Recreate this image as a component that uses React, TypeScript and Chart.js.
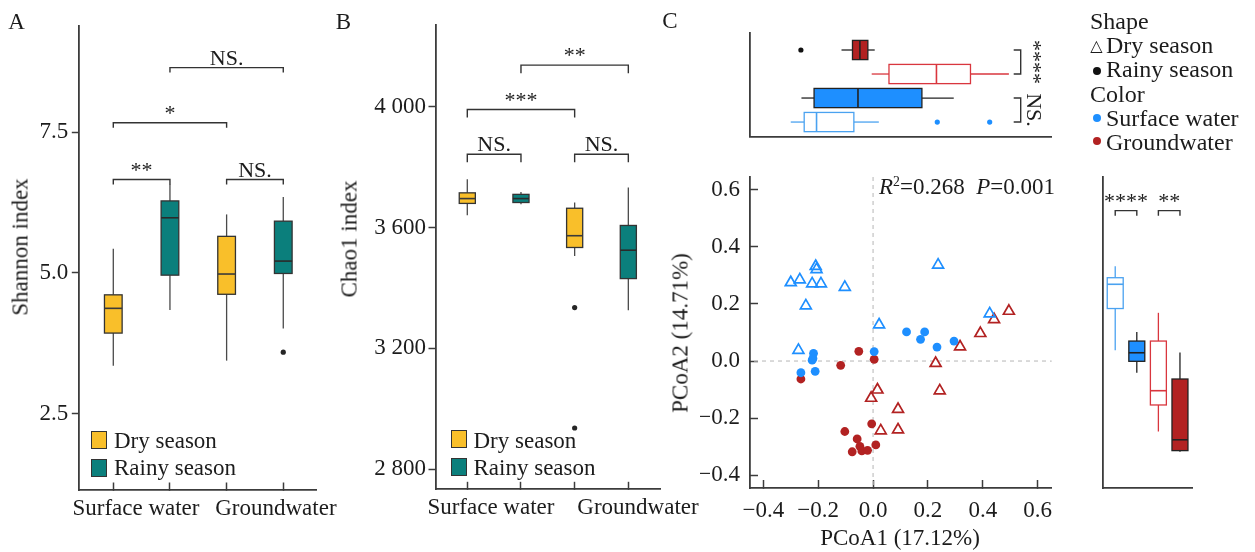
import React, { useEffect, useRef } from "react";
import { Chart, registerables } from "chart.js";

Chart.register(...registerables);

const W = 1255;
const H = 552;
const FONT = '"Liberation Serif", "Times New Roman", Times, serif';
const INK = "#1c1c1c";
const AXIS = "#3c3c3c";
const YELLOW = "#F9BF2A";
const TEAL = "#0B7F7C";
const BLUE = "#1E8FFF";
const RED = "#B22222";
const LIGHT_BLUE = "#4AA2F0";
const LIGHT_RED = "#D9363E";

// ---------------- Panel A & B ----------------
const groupLabels = ["Surface water", "Groundwater"];
const groupLabelPosA = [0.4, 2.87];
const groupLabelPosB = [0.44, 3.18];
const seasonLabels = ["Dry season", "Rainy season"];
const boxTicks = [0, 1, 2, 3];
// order: SW dry, SW rainy, GW dry, GW rainy ; [low whisker, Q1, median, Q3, high whisker]
const shannonBoxes = [
  [3.35, 3.93, 4.37, 4.61, 5.43],
  [4.34, 4.96, 5.98, 6.28, 6.58],
  [3.44, 4.62, 4.98, 5.65, 6.04],
  [4.01, 4.99, 5.21, 5.92, 6.35],
];
const shannonOutliers = [[], [], [], [3.59]];
const shannonTicks = [2.5, 5.0, 7.5];
const shannonSig: [number, number, number, string][] = [
  [0, 1, 6.66, "**"],
  [2, 3, 6.66, "NS."],
  [0, 2, 7.67, "*"],
  [1, 3, 8.65, "NS."],
];
const chao1Boxes = [
  [3641, 3680, 3696, 3715, 3760],
  [3677, 3683, 3696, 3710, 3718],
  [3506, 3534, 3573, 3664, 3683],
  [3326, 3431, 3525, 3607, 3733],
];
const chao1Outliers = [[], [], [3335, 2936], []];
const chao1Ticks = [2800, 3200, 3600, 4000];
const chao1Sig: [number, number, number, string][] = [
  [0, 1, 3843, "NS."],
  [2, 3, 3843, "NS."],
  [0, 2, 3991, "***"],
  [1, 3, 4138, "**"],
];

// ---------------- Panel C ----------------
const pcoaTicks = [-0.4, -0.2, 0, 0.2, 0.4, 0.6];
const swDry = [
  [-0.3, 0.275], [-0.267, 0.285], [-0.209, 0.332], [-0.206, 0.321], [-0.222, 0.271], [-0.19, 0.271],
  [-0.103, 0.259], [-0.245, 0.194], [-0.272, 0.038], [0.022, 0.127], [0.237, 0.337], [0.425, 0.166],
];
const swRainy = [
  [-0.217, 0.027], [-0.219, 0.009], [-0.222, 0.003], [-0.263, -0.041], [-0.211, -0.036], [0.004, 0.033],
  [0.122, 0.102], [0.173, 0.076], [0.188, 0.102], [0.233, 0.049], [0.295, 0.07],
];
const gwDry = [
  [0.317, 0.05], [0.391, 0.097], [0.441, 0.146], [0.495, 0.175], [0.228, -0.008], [0.243, -0.104],
  [0.016, -0.101], [-0.007, -0.13], [0.091, -0.169], [0.028, -0.244], [0.091, -0.241],
];
const gwRainy = [
  [-0.263, -0.063], [-0.118, -0.015], [-0.052, 0.034], [0.004, 0.006], [-0.005, -0.22], [-0.103, -0.247],
  [-0.058, -0.273], [-0.048, -0.299], [-0.076, -0.318], [-0.041, -0.315], [-0.02, -0.313], [0.01, -0.294],
];
// top marginal (PCoA1), rows from top: GW rainy, GW dry, SW rainy, SW dry
const pc1Boxes = [
  [-0.115, -0.075, -0.048, -0.019, 0.006],
  [-0.005, 0.058, 0.231, 0.355, 0.495],
  [-0.261, -0.215, -0.055, 0.178, 0.294],
  [-0.3, -0.251, -0.206, -0.07, 0.021],
];
const pc1Outliers = [[-0.263], [], [], [0.234, 0.425]];
const pc1Sig: [number, number, string][] = [
  [0, 1, "****"],
  [2, 3, "NS."],
];
// right marginal (PCoA2), left to right: SW dry, SW rainy, GW dry, GW rainy
const pc2Boxes = [
  [0.038, 0.184, 0.269, 0.292, 0.332],
  [-0.041, -0.001, 0.029, 0.07, 0.102],
  [-0.247, -0.154, -0.104, 0.07, 0.169],
  [-0.318, -0.314, -0.276, -0.063, 0.03],
];
const pc2Sig: [number, number, number, string][] = [
  [0, 1, 0.527, "****"],
  [2, 3, 0.527, "**"],
];

type BoxStyle = { fill: string; stroke: string; whisker: string; median: string };
const abStyles: BoxStyle[] = [
  { fill: YELLOW, stroke: "#333", whisker: "#4a4a4a", median: "#3a3a3a" },
  { fill: TEAL, stroke: "#333", whisker: "#4a4a4a", median: "#2a2a2a" },
  { fill: YELLOW, stroke: "#333", whisker: "#4a4a4a", median: "#3a3a3a" },
  { fill: TEAL, stroke: "#333", whisker: "#4a4a4a", median: "#2a2a2a" },
];
const swDryStyle: BoxStyle = { fill: "#ffffff", stroke: LIGHT_BLUE, whisker: LIGHT_BLUE, median: LIGHT_BLUE };
const swRainyStyle: BoxStyle = { fill: BLUE, stroke: "#222", whisker: "#222", median: "#222" };
const gwDryStyle: BoxStyle = { fill: "#ffffff", stroke: LIGHT_RED, whisker: LIGHT_RED, median: LIGHT_RED };
const gwRainyStyle: BoxStyle = { fill: RED, stroke: "#222", whisker: "#222", median: "#222" };
const pc1Styles = [gwRainyStyle, gwDryStyle, swRainyStyle, swDryStyle];
const pc2Styles = [swDryStyle, swRainyStyle, gwDryStyle, gwRainyStyle];

// ---------------- helpers ----------------
const fmtPcoa = (v: number) =>
  Math.abs(v) < 1e-9 ? "0.0" : v < 0 ? "\u2212" + (-v).toFixed(1) : v.toFixed(1);
const fmtThousands = (v: number) => `${Math.floor(v / 1000)} ${String(Math.round(v % 1000)).padStart(3, "0")}`;

function makeScale(o: any) {
  return {
    type: "linear",
    min: o.min,
    max: o.max,
    reverse: !!o.reverse,
    afterBuildTicks: (s: any) => {
      s.ticks = (o.ticks || []).map((v: number) => ({ value: v }));
    },
    afterFit: (s: any) => {
      if (o.horizontal) s.height = o.size;
      else s.width = o.size;
      s.paddingLeft = 0;
      s.paddingRight = 0;
      s.paddingTop = 0;
      s.paddingBottom = 0;
    },
    ticks: {
      display: !!o.label,
      autoSkip: false,
      maxRotation: 0,
      minRotation: 0,
      padding: o.pad ?? 0,
      color: INK,
      font: { family: FONT, size: 23, lineHeight: 1 },
      callback: (v: number) => (o.label ? o.label(v) : ""),
    },
    grid: {
      display: !!o.tickLen,
      drawOnChartArea: false,
      drawTicks: true,
      tickLength: o.tickLen || 0,
      tickWidth: 1.5,
      tickColor: (c: any) =>
        c && c.tick && o.marks && !o.marks.includes(c.tick.value) ? "rgba(0,0,0,0)" : AXIS,
    },
    border: { display: o.border !== false, color: AXIS, width: 1.8 },
  };
}

function build(canvas: HTMLCanvasElement, area: any, xs: any, ys: any, datasets: any[], plugin: any) {
  return new Chart(canvas, {
    type: "scatter",
    data: { datasets },
    options: {
      responsive: false,
      animation: false,
      events: [],
      layout: {
        padding: {
          left: area.l - ys.size,
          right: W - area.r,
          top: area.t,
          bottom: H - area.b - xs.size,
        },
      },
      plugins: { legend: { display: false }, tooltip: { enabled: false }, title: { display: false } },
      scales: {
        x: makeScale({ ...xs, horizontal: true }),
        y: makeScale({ ...ys, horizontal: false }),
      },
    } as any,
    plugins: [plugin],
  } as any);
}

function line(ctx: CanvasRenderingContext2D, x1: number, y1: number, x2: number, y2: number) {
  ctx.beginPath();
  ctx.moveTo(x1, y1);
  ctx.lineTo(x2, y2);
  ctx.stroke();
}

function drawBoxes(chart: any, boxes: number[][], styles: BoxStyle[], half: number, vertical: boolean) {
  const ctx: CanvasRenderingContext2D = chart.ctx;
  const xs = chart.scales.x;
  const ys = chart.scales.y;
  boxes.forEach((b, i) => {
    const st = styles[i];
    const [lo, q1, md, q3, hi] = b;
    ctx.save();
    ctx.lineWidth = 1.3;
    if (vertical) {
      const cx = xs.getPixelForValue(i);
      const x0 = xs.getPixelForValue(i - half);
      const x1 = xs.getPixelForValue(i + half);
      const pLo = ys.getPixelForValue(lo), pQ1 = ys.getPixelForValue(q1), pMd = ys.getPixelForValue(md);
      const pQ3 = ys.getPixelForValue(q3), pHi = ys.getPixelForValue(hi);
      ctx.strokeStyle = st.whisker;
      line(ctx, cx, pHi, cx, pQ3);
      line(ctx, cx, pQ1, cx, pLo);
      ctx.fillStyle = st.fill;
      ctx.fillRect(x0, pQ3, x1 - x0, pQ1 - pQ3);
      ctx.strokeStyle = st.stroke;
      ctx.strokeRect(x0, pQ3, x1 - x0, pQ1 - pQ3);
      ctx.strokeStyle = st.median;
      ctx.lineWidth = 1.6;
      line(ctx, x0, pMd, x1, pMd);
    } else {
      const cy = ys.getPixelForValue(i);
      const y0 = ys.getPixelForValue(i - half);
      const y1 = ys.getPixelForValue(i + half);
      const pLo = xs.getPixelForValue(lo), pQ1 = xs.getPixelForValue(q1), pMd = xs.getPixelForValue(md);
      const pQ3 = xs.getPixelForValue(q3), pHi = xs.getPixelForValue(hi);
      ctx.strokeStyle = st.whisker;
      line(ctx, pLo, cy, pQ1, cy);
      line(ctx, pQ3, cy, pHi, cy);
      ctx.fillStyle = st.fill;
      const top = Math.min(y0, y1), h = Math.abs(y1 - y0);
      ctx.fillRect(pQ1, top, pQ3 - pQ1, h);
      ctx.strokeStyle = st.stroke;
      ctx.strokeRect(pQ1, top, pQ3 - pQ1, h);
      ctx.strokeStyle = st.median;
      ctx.lineWidth = 1.6;
      line(ctx, pMd, top, pMd, top + h);
    }
    ctx.restore();
  });
}

function drawSig(chart: any, sigs: [number, number, number, string][], leg: number) {
  const ctx: CanvasRenderingContext2D = chart.ctx;
  const xs = chart.scales.x;
  const ys = chart.scales.y;
  ctx.save();
  ctx.strokeStyle = "#333";
  ctx.lineWidth = 1.4;
  ctx.fillStyle = INK;
  ctx.font = `22px ${FONT}`;
  ctx.textAlign = "center";
  ctx.textBaseline = "alphabetic";
  sigs.forEach(([a, b, yv, label]) => {
    const x1 = xs.getPixelForValue(a);
    const x2 = xs.getPixelForValue(b);
    const y = ys.getPixelForValue(yv);
    ctx.beginPath();
    ctx.moveTo(x1, y + leg);
    ctx.lineTo(x1, y);
    ctx.lineTo(x2, y);
    ctx.lineTo(x2, y + leg);
    ctx.stroke();
    ctx.fillText(label, (x1 + x2) / 2, y - 3);
  });
  ctx.restore();
}

const outlierDataset = (pts: { x: number; y: number }[], color: string, r: number) => ({
  data: pts,
  pointRadius: r,
  pointBackgroundColor: color,
  pointBorderWidth: 0,
  pointBorderColor: color,
  showLine: false,
});

const toPts = (arr: number[][]) => arr.map(([x, y]) => ({ x, y }));

function makeA(canvas: HTMLCanvasElement) {
  const pts = shannonOutliers.flatMap((vals, i) => vals.map((v) => ({ x: i, y: v })));
  return build(
    canvas,
    { l: 79.3, r: 316.7, t: 26, b: 490 },
    {
      min: -0.6, max: 3.59, size: 40, tickLen: -7.5, pad: 14.5,
      ticks: [0, groupLabelPosA[0], 1, 2, groupLabelPosA[1], 3], marks: boxTicks,
      label: (v: number) => (v === groupLabelPosA[0] ? groupLabels[0] : v === groupLabelPosA[1] ? groupLabels[1] : ""),
    },
    { min: 1.14, max: 9.39, size: 45, tickLen: 7.5, pad: 3.5, ticks: shannonTicks, label: (v: number) => v.toFixed(1) },
    [outlierDataset(pts, "#262626", 2.6)],
    {
      id: "boxA",
      beforeDatasetsDraw: (c: any) => {
        drawBoxes(c, shannonBoxes, abStyles, 0.156, true);
        drawSig(c, shannonSig, 5);
      },
    }
  );
}

function makeB(canvas: HTMLCanvasElement) {
  const pts = chao1Outliers.flatMap((vals, i) => vals.map((v) => ({ x: i, y: v })));
  return build(
    canvas,
    { l: 436, r: 660, t: 25, b: 489.3 },
    {
      min: -0.583, max: 3.59, size: 40, tickLen: -7.5, pad: 14.5,
      ticks: [0, groupLabelPosB[0], 1, 2, 3, groupLabelPosB[1]], marks: boxTicks,
      label: (v: number) => (v === groupLabelPosB[0] ? groupLabels[0] : v === groupLabelPosB[1] ? groupLabels[1] : ""),
    },
    { min: 2733, max: 4271, size: 70, tickLen: 7.5, pad: 2.5, ticks: chao1Ticks, label: fmtThousands },
    [outlierDataset(pts, "#262626", 2.6)],
    {
      id: "boxB",
      beforeDatasetsDraw: (c: any) => {
        drawBoxes(c, chao1Boxes, abStyles, 0.15, true);
        drawSig(c, chao1Sig, 8);
      },
    }
  );
}

const triangleSet = (arr: number[][], color: string) => ({
  data: toPts(arr),
  pointStyle: "triangle",
  pointRadius: 6.3,
  pointBorderWidth: 1.7,
  pointBorderColor: color,
  pointBackgroundColor: "rgba(255,255,255,0)",
  showLine: false,
});
const circleSet = (arr: number[][], color: string) => ({
  data: toPts(arr),
  pointStyle: "circle",
  pointRadius: 4.4,
  pointBorderWidth: 0,
  pointBorderColor: color,
  pointBackgroundColor: color,
  showLine: false,
});

const PC_X = { min: -0.4485, max: 0.651 };
const PC_Y = { min: -0.445, max: 0.645 };

function makeScatter(canvas: HTMLCanvasElement) {
  return build(
    canvas,
    { l: 750, r: 1051.7, t: 177, b: 488 },
    { ...PC_X, size: 40, tickLen: -8, pad: 19, ticks: pcoaTicks, label: fmtPcoa },
    { ...PC_Y, size: 50, tickLen: -8, pad: 18, ticks: pcoaTicks, label: fmtPcoa },
    [
      triangleSet(swDry, BLUE),
      circleSet(swRainy, BLUE),
      circleSet(gwRainy, RED),
      triangleSet(gwDry, RED),
    ],
    {
      id: "zeroLines",
      beforeDatasetsDraw: (c: any) => {
        const ctx: CanvasRenderingContext2D = c.ctx;
        const { left, right, top, bottom } = c.chartArea;
        const x0 = c.scales.x.getPixelForValue(0);
        const y0 = c.scales.y.getPixelForValue(0);
        ctx.save();
        ctx.strokeStyle = "#c2c2c2";
        ctx.lineWidth = 1.2;
        ctx.setLineDash([4, 4]);
        line(ctx, x0, top, x0, bottom);
        line(ctx, left + 4, y0, right, y0);
        ctx.restore();
      },
    }
  );
}

function makeTop(canvas: HTMLCanvasElement) {
  const black = pc1Outliers[0].map((v) => ({ x: v, y: 0 }));
  const blue = pc1Outliers[3].map((v) => ({ x: v, y: 3 }));
  return build(
    canvas,
    { l: 750, r: 1051.7, t: 33, b: 136.7 },
    { ...PC_X, size: 0, tickLen: 0, ticks: [] },
    { min: -0.708, max: 3.61, reverse: true, size: 0, tickLen: 0, ticks: [] },
    [outlierDataset(black, "#111", 2.6), outlierDataset(blue, BLUE, 2.6)],
    {
      id: "boxTop",
      beforeDatasetsDraw: (c: any) => {
        drawBoxes(c, pc1Boxes, pc1Styles, 0.4, false);
        const ctx: CanvasRenderingContext2D = c.ctx;
        const ys = c.scales.y;
        const xr = c.chartArea.right;
        ctx.save();
        ctx.strokeStyle = "#333";
        ctx.lineWidth = 1.4;
        ctx.fillStyle = INK;
        ctx.font = `22px ${FONT}`;
        ctx.textAlign = "center";
        ctx.textBaseline = "alphabetic";
        pc1Sig.forEach(([a, b, label]) => {
          const y1 = ys.getPixelForValue(a);
          const y2 = ys.getPixelForValue(b);
          const xb = xr - 31;
          ctx.beginPath();
          ctx.moveTo(xb - 7, y1);
          ctx.lineTo(xb, y1);
          ctx.lineTo(xb, y2);
          ctx.lineTo(xb - 7, y2);
          ctx.stroke();
          ctx.save();
          ctx.translate(xr - 25, (y1 + y2) / 2);
          ctx.rotate(Math.PI / 2);
          ctx.fillText(label, 0, 0);
          ctx.restore();
        });
        ctx.restore();
      },
    }
  );
}

function makeRight(canvas: HTMLCanvasElement) {
  return build(
    canvas,
    { l: 1102.7, r: 1192.7, t: 177, b: 488 },
    { min: -0.58, max: 3.59, size: 0, tickLen: 0, ticks: [] },
    { ...PC_Y, size: 0, tickLen: 0, ticks: [] },
    [],
    {
      id: "boxRight",
      beforeDatasetsDraw: (c: any) => {
        drawBoxes(c, pc2Boxes, pc2Styles, 0.37, true);
        drawSig(c, pc2Sig, 5);
      },
    }
  );
}

type TxtProps = {
  x: number;
  y: number;
  children: React.ReactNode;
  anchor?: "start" | "middle";
  rot?: number;
  size?: number;
  family?: string;
};
function Txt({ x, y, children, anchor = "middle", rot = 0, size = 23, family = FONT }: TxtProps) {
  return (
    <div
      style={{
        position: "absolute",
        left: x,
        top: y,
        transform: `translate(${anchor === "middle" ? "-50%" : "0"}, -50%) rotate(${rot}deg)`,
        fontFamily: family,
        fontSize: size,
        lineHeight: 1,
        whiteSpace: "pre",
        color: INK,
      }}
    >
      {children}
    </div>
  );
}

function Swatch({ x, y, color }: { x: number; y: number; color: string }) {
  return (
    <div
      style={{
        position: "absolute",
        left: x,
        top: y,
        width: 16,
        height: 18,
        background: color,
        border: "1px solid #333",
        boxSizing: "border-box",
      }}
    />
  );
}

function Dot({ x, y, color }: { x: number; y: number; color: string }) {
  return (
    <div
      style={{
        position: "absolute",
        left: x - 4,
        top: y - 4,
        width: 8,
        height: 8,
        borderRadius: "50%",
        background: color,
      }}
    />
  );
}

export default function App() {
  const refA = useRef<HTMLCanvasElement>(null);
  const refB = useRef<HTMLCanvasElement>(null);
  const refS = useRef<HTMLCanvasElement>(null);
  const refT = useRef<HTMLCanvasElement>(null);
  const refR = useRef<HTMLCanvasElement>(null);

  useEffect(() => {
    const charts = [
      makeA(refA.current!),
      makeB(refB.current!),
      makeScatter(refS.current!),
      makeTop(refT.current!),
      makeRight(refR.current!),
    ];
    return () => charts.forEach((c) => c.destroy());
  }, []);

  const cv = (r: React.RefObject<HTMLCanvasElement>) => (
    <canvas
      ref={r}
      width={W}
      height={H}
      style={{ position: "absolute", left: 0, top: 0, width: W, height: H }}
    />
  );

  return (
    <div
      style={{
        position: "absolute",
        left: 0,
        top: 0,
        width: W,
        height: H,
        background: "#fff",
        overflow: "hidden",
      }}
    >
      {cv(refA)}
      {cv(refB)}
      {cv(refS)}
      {cv(refT)}
      {cv(refR)}

      <Txt x={16.5} y={20.5}>A</Txt>
      <Txt x={343.5} y={20.5}>B</Txt>
      <Txt x={670} y={20}>C</Txt>

      <Txt x={20} y={247} rot={-90}>Shannon index</Txt>
      <Txt x={349} y={239} rot={-90}>Chao1 index</Txt>
      <Txt x={680} y={333} rot={-90}>PCoA2 (14.71%)</Txt>
      <Txt x={900} y={537}>PCoA1 (17.12%)</Txt>

      <Swatch x={91} y={431} color={YELLOW} />
      <Swatch x={91} y={458.5} color={TEAL} />
      <Txt x={114} y={440} anchor="start">{seasonLabels[0]}</Txt>
      <Txt x={114} y={467} anchor="start">{seasonLabels[1]}</Txt>

      <Swatch x={451} y={430} color={YELLOW} />
      <Swatch x={451} y={457.5} color={TEAL} />
      <Txt x={473.5} y={439.5} anchor="start">{seasonLabels[0]}</Txt>
      <Txt x={473.5} y={466.5} anchor="start">{seasonLabels[1]}</Txt>

      <Txt x={879} y={186} anchor="start">
        <i>R</i>
        <span style={{ fontSize: "0.6em", position: "relative", top: "-0.6em" }}>2</span>
        {"=0.268  "}
        <i>P</i>
        {"=0.001"}
      </Txt>

      <Txt x={1090} y={21} anchor="start" size={24}>Shape</Txt>
      <Txt x={1096.5} y={46} size={16} family={'"DejaVu Sans", sans-serif'}>{"\u25B3"}</Txt>
      <Txt x={1106} y={45} anchor="start" size={24}>{seasonLabels[0]}</Txt>
      <Dot x={1097} y={71} color="#111" />
      <Txt x={1106} y={69} anchor="start" size={24}>{seasonLabels[1]}</Txt>
      <Txt x={1090} y={94} anchor="start" size={24}>Color</Txt>
      <Dot x={1097} y={118} color={BLUE} />
      <Txt x={1106} y={118} anchor="start" size={24}>{groupLabels[0]}</Txt>
      <Dot x={1097} y={141} color={RED} />
      <Txt x={1106} y={142} anchor="start" size={24}>{groupLabels[1]}</Txt>
    </div>
  );
}
